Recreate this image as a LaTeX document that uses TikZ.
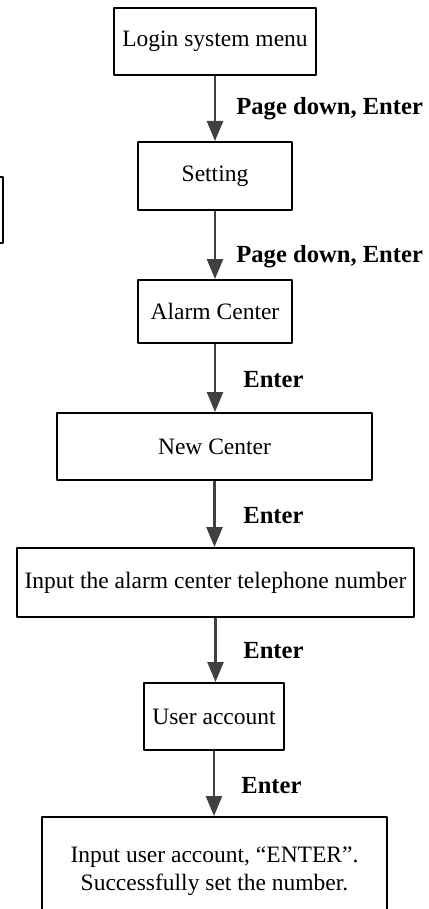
\documentclass[tikz,border=0pt]{standalone}
\usepackage{fontspec}
\setmainfont{Liberation Serif}
\usetikzlibrary{arrows.meta}
\begin{document}
\begin{tikzpicture}[x=0.5pt, y=-0.5pt, line join=round,
			box/.style={draw, line width=1pt, inner sep=2pt, align=center,
				font=\fontsize{11.75pt}{14pt}\selectfont},
			key/.style={anchor=base west, inner sep=0pt,
				font=\fontsize{12.3pt}{14pt}\selectfont\bfseries},
			flow/.style={draw=black!75, line width=1.3pt,
				-{Triangle[length=10pt,width=8pt]}}]
			\useasboundingbox (0,0) rectangle (428,909);
			\clip (0,0) rectangle (428,909);
			\path (215,41.5) coordinate (A)
			(215,176) coordinate (B)
			(215,311.5) coordinate (C)
			(214.5,446.5) coordinate (D)
			(215.5,582.5) coordinate (E)
			(214,716.5) coordinate (F)
			(214.5,871) coordinate (G)
			;
			% boxes
			\node[box, minimum width=101pt, minimum height=33.5pt] (login) at (A) {Login system menu};
			\node[box, minimum width=77pt, minimum height=34pt] (setting) at (B) {Setting};
			\node[box, minimum width=77pt, minimum height=31.5pt] (alarm) at (C) {Alarm Center};
			\node[box, minimum width=157.5pt, minimum height=33.5pt] (newc) at (D) {New Center};
			\node[box, minimum width=198.5pt, minimum height=34.5pt] (phone) at (E) {Input the alarm center telephone number};
			\node[box, minimum width=70pt, minimum height=33.5pt] (account) at (F) {User account};
			\node[box, minimum width=172.5pt, minimum height=54pt] (done) at (G) {Input user account, ``ENTER''.\\Successfully set the number.};
			% edge of the box cut off on the left
			\draw[line width=1pt] (-10,177) -- (2.5,177) -- (2.5,243) -- (-10,243);
			% arrows and keys
			\foreach \a/\b/\x/\y/\t in {login/setting/236/115/{Page down, Enter},
				setting/alarm/236/263/{Page down, Enter},
				alarm/newc/243/387/Enter,
				newc/phone/243/523/Enter,
				phone/account/243/658/Enter,
				account/done/241/793/Enter}
			{\draw[flow] (\a.south) -- (\a.south |- \b.north);
				\node[key] at (\x,\y) {\t};}
		\end{tikzpicture}
\end{document}
